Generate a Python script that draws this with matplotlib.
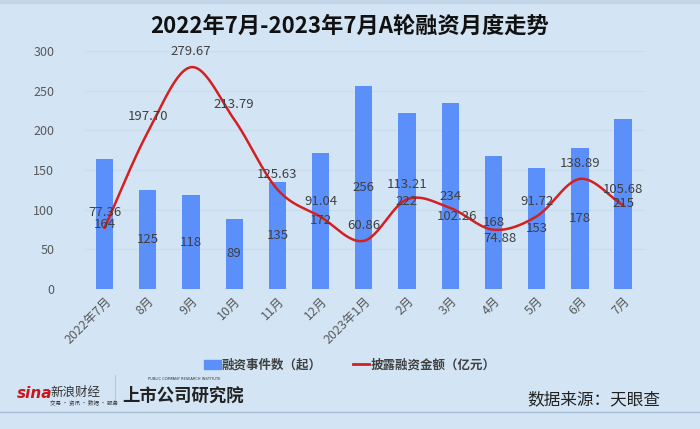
import numpy as np
import matplotlib
matplotlib.use('Agg')
import matplotlib.pyplot as plt
from matplotlib.lines import Line2D
from matplotlib.patches import Patch

plt.rcParams['font.family'] = ['Noto Sans CJK SC', 'DejaVu Sans']

# 数据
months = ['2022年7月', '8月', '9月', '10月', '11月', '12月', '2023年1月',
          '2月', '3月', '4月', '5月', '6月', '7月']
events = [164, 125, 118, 89, 135, 172, 256, 222, 234, 168, 153, 178, 215]
amounts = [77.36, 197.70, 279.67, 213.79, 125.63, 91.04, 60.86,
           113.21, 102.26, 74.88, 91.72, 138.89, 105.68]
# 金额标签放在点下方的月份（避免与柱标签重叠）
label_below = ['3月', '4月']

bg = '#d3e5f4'
bar_color = '#5b8ff9'
line_color = '#d42020'
text_color = '#404040'


def smooth_curve(x, y, n=30):
    # Catmull-Rom 平滑（类似Excel的平滑线）
    x = np.asarray(x, float)
    y = np.asarray(y, float)
    px = np.concatenate([[2 * x[0] - x[1]], x, [2 * x[-1] - x[-2]]])
    py = np.concatenate([[2 * y[0] - y[1]], y, [2 * y[-1] - y[-2]]])
    xs, ys = [], []
    t = np.linspace(0, 1, n)
    for i in range(1, len(px) - 2):
        p0, p1, p2, p3 = px[i - 1:i + 3]
        q0, q1, q2, q3 = py[i - 1:i + 3]
        c1x, c1y = p1 + (p2 - p0) / 6, q1 + (q2 - q0) / 6
        c2x, c2y = p2 - (p3 - p1) / 6, q2 - (q3 - q1) / 6
        bx = (1 - t) ** 3 * p1 + 3 * (1 - t) ** 2 * t * c1x + 3 * (1 - t) * t ** 2 * c2x + t ** 3 * p2
        by = (1 - t) ** 3 * q1 + 3 * (1 - t) ** 2 * t * c1y + 3 * (1 - t) * t ** 2 * c2y + t ** 3 * q2
        xs.extend(bx)
        ys.extend(by)
    return np.array(xs), np.array(ys)


fig = plt.figure(figsize=(7, 4.29), dpi=100, facecolor=bg)
# 顶部深色条
fig.patches.append(plt.Rectangle((0, 0.993), 1, 0.007, transform=fig.transFigure,
                                 color='#c3d7e8', zorder=0))
ax = fig.add_axes([0.121, 0.326, 0.8, 0.555])
ax.set_facecolor(bg)

x = np.arange(len(months))
ax.bar(x, events, width=0.4, color=bar_color, zorder=2)
for xi, v in zip(x, events):
    ax.text(xi, v / 2, str(v), ha='center', va='center', fontsize=9.5,
            color=text_color, zorder=4)

sx, sy = smooth_curve(x, amounts)
ax.plot(sx, sy, color=line_color, lw=1.8, zorder=3)
for xi, v, m in zip(x, amounts, months):
    if m in label_below:
        off = (5, -6)
    else:
        off = (0, 11)
    ax.annotate('%.2f' % v, (xi, v), xytext=off, textcoords='offset points',
                ha='center', va='center', fontsize=9.5, color=text_color, zorder=4)

ax.set_xlim(-0.46, 12.5)
ax.set_ylim(0, 300)
ax.set_yticks(range(0, 301, 50))
ax.set_xticks(x)
ax.set_xticklabels(months, rotation=45, ha='right', rotation_mode='anchor',
                   fontsize=9, color='#595959')
ax.tick_params(axis='y', labelsize=9, labelcolor='#595959', length=0, pad=22)
ax.tick_params(axis='x', length=0, pad=4)
ax.grid(axis='y', color='#c9dced', lw=0.8, zorder=0)
for s in ax.spines.values():
    s.set_visible(False)

fig.text(0.5, 0.938, '2022年7月-2023年7月A轮融资月度走势', ha='center', va='center',
         fontsize=16, fontweight='bold', color='#111111')

handles = [Patch(color=bar_color), Line2D([0], [0], color=line_color, lw=2)]
fig.legend(handles, ['融资事件数（起）', '披露融资金额（亿元）'], loc='center',
           bbox_to_anchor=(0.5, 0.149), ncol=2, frameon=False,
           labelcolor='#404040', handlelength=1.3, handletextpad=0.1,
           columnspacing=2.5, prop={'weight': 'bold', 'size': 9})

# 底部标识
fig.text(0.024, 0.082, 'sina', fontsize=11, fontweight='bold', style='italic',
         color='#c8161d', ha='left', va='center', family='DejaVu Sans')
fig.text(0.072, 0.085, '新浪财经', fontsize=9, color='#333333', ha='left', va='center')
fig.text(0.072, 0.062, '交易 · 资讯 · 数据 · 服务', fontsize=4, color='#333333',
         ha='left', va='center')
fig.add_artist(Line2D([0.164, 0.164], [0.055, 0.125], transform=fig.transFigure,
                      color='#b8c8d8', lw=0.8))
fig.text(0.175, 0.078, '上市公司研究院', fontsize=12.5, fontweight='heavy', style='italic',
         color='#222222', ha='left', va='center')
fig.text(0.212, 0.117, 'PUBLIC COMPANY RESEARCH INSTITUTE', fontsize=2.6,
         color='#333333', ha='left', va='center', family='DejaVu Sans')
fig.text(0.943, 0.067, '数据来源：天眼查', fontsize=12, color='#222222',
         ha='right', va='center')
fig.add_artist(Line2D([0, 1], [0.04, 0.04], transform=fig.transFigure,
                      color='#a9c0d6', lw=1))

fig.savefig('out.png', dpi=100, facecolor=bg)
